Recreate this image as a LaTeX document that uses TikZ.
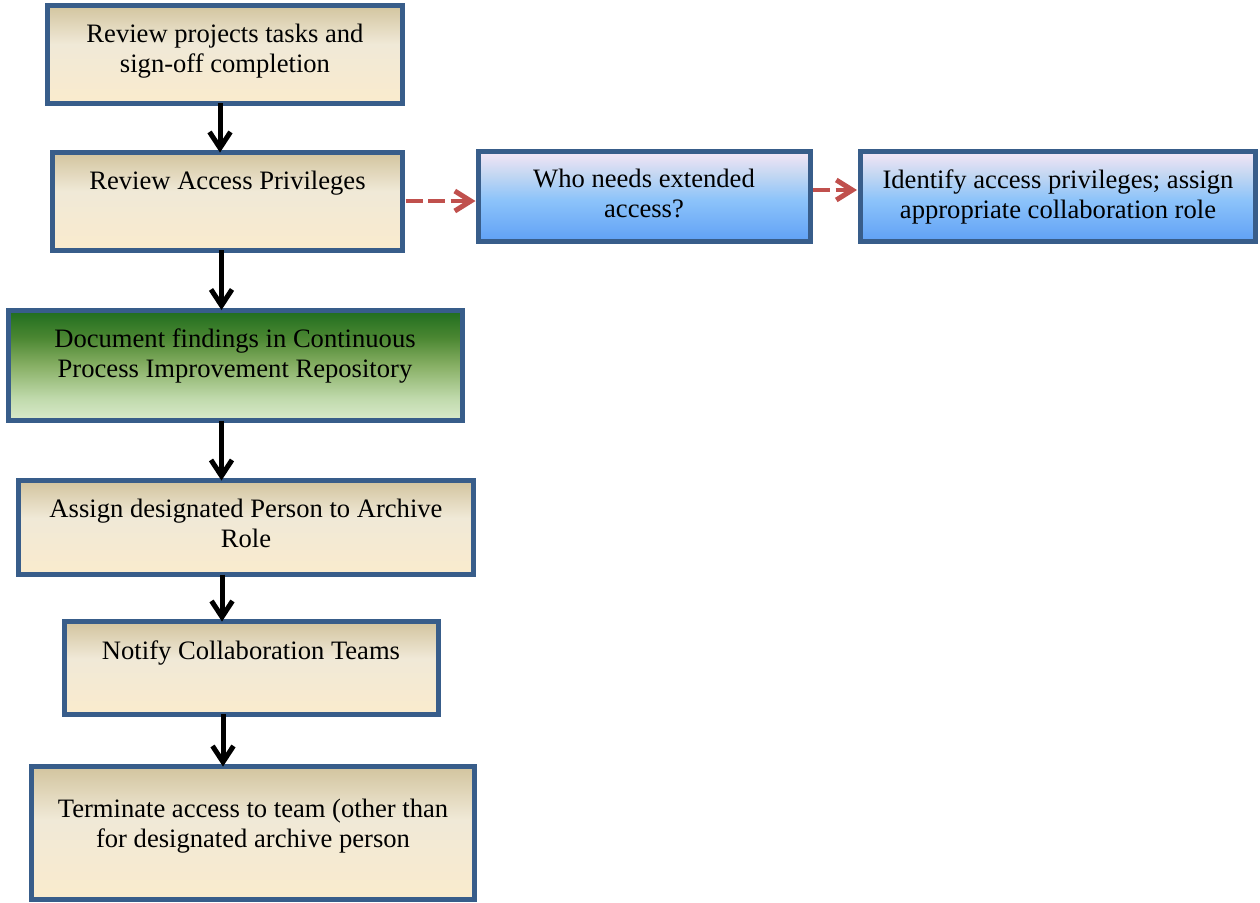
\documentclass[tikz,border=0pt]{standalone}
\usepackage{fontspec}
\setmainfont{Liberation Serif}
\usetikzlibrary{arrows.meta,fit}
\definecolor{bordc}{RGB}{56,93,138}
\definecolor{tantop}{RGB}{210,196,158}
\definecolor{tanmid}{RGB}{240,233,215}
\definecolor{tanbot}{RGB}{250,235,205}
\definecolor{grtop}{RGB}{30,108,30}
\definecolor{grmidA}{RGB}{75,135,50}
\definecolor{grmid}{RGB}{135,175,100}
\definecolor{grmidB}{RGB}{192,218,172}
\definecolor{grbot}{RGB}{218,234,204}
\definecolor{bltop}{RGB}{246,230,246}
\definecolor{blmidA}{RGB}{195,215,242}
\definecolor{blmid}{RGB}{140,195,250}
\definecolor{blbot}{RGB}{95,160,245}
\definecolor{redarr}{RGB}{192,80,77}
\pgfdeclareverticalshading{tanshade}{100bp}{color(0bp)=(tanbot); color(25bp)=(tanbot); color(55bp)=(tanmid); color(75bp)=(tantop); color(100bp)=(tantop)}
\pgfdeclareverticalshading{grshade}{100bp}{color(0bp)=(grbot); color(25bp)=(grbot); color(35bp)=(grmidB); color(50bp)=(grmid); color(62.5bp)=(grmidA); color(75bp)=(grtop); color(100bp)=(grtop)}
\pgfdeclareverticalshading{blshade}{100bp}{color(0bp)=(blbot); color(25bp)=(blbot); color(48bp)=(blmid); color(62bp)=(blmidA); color(75bp)=(bltop); color(100bp)=(bltop)}
\tikzset{
  boxbase/.style={draw=bordc, line width=2.5pt, inner sep=0pt, outer sep=0pt},
  tanbox/.style={boxbase, shading=tanshade},
  grbox/.style={boxbase, shading=grshade},
  blbox/.style={boxbase, shading=blshade},
  txt/.style={anchor=north, inner sep=0pt, align=center, font=\fontsize{13.3}{15}\selectfont},
  blkarr/.style={draw=black, line width=2.5pt, -{Straight Barb[length=8pt,width=10.5pt]}},
  redarrow/.style={draw=redarr, line width=2.3pt, dash pattern=on 8.5pt off 2.8pt, -{Straight Barb[length=8pt,width=10pt,line width=2.5pt]}, shorten <=1.5pt, shorten >=1.5pt},
}
\begin{document}
\begin{tikzpicture}[x=0.5pt, y=-0.5pt]
\useasboundingbox (0,0) rectangle (1260,902);
% boxes
\node[tanbox, fit={(47.5,5) (402.5,103)}] (b1) {};
\node[tanbox, fit={(52.5,152.5) (402.5,250)}] (b2) {};
\node[grbox, fit={(8.5,310) (462,420.5)}] (b3) {};
\node[tanbox, fit={(18.5,480.5) (473.5,574.5)}] (b4) {};
\node[tanbox, fit={(64,621.5) (438.5,714)}] (b5) {};
\node[tanbox, fit={(31,766.5) (474.5,899)}] (b6) {};
\node[blbox, fit={(478.5,151) (810,241.7)}] (b7) {};
\node[blbox, fit={(860,151) (1255.5,241.7)}] (b8) {};
% texts
\node[txt] (t1) at (225,24) {Review projects tasks and\\sign-off completion};
\node[txt] (t2) at (227.5,171) {Review Access Privileges};
\node[txt] (t3) at (235,328) {Document findings in Continuous\\Process Improvement Repository};
\node[txt] (t4) at (246,499) {Assign designated Person to Archive\\Role};
\node[txt] (t5) at (251,640) {Notify Collaboration Teams};
\node[txt] (t6) at (253,799) {Terminate access to team (other than\\for designated archive person};
\node[txt] (t7) at (644,169) {Who needs extended\\access?};
\node[txt] (t8) at (1058,169) {Identify access privileges; assign\\appropriate collaboration role};
% black arrows
\draw[blkarr] (b1.south -| 220,0) -- (b2.north -| 220,0);
\draw[blkarr] (b2.south -| 221.5,0) -- (b3.north -| 221.5,0);
\draw[blkarr] (b3.south -| 221.5,0) -- (b4.north -| 221.5,0);
\draw[blkarr] (b4.south -| 222,0) -- (b5.north -| 222,0);
\draw[blkarr] (b5.south -| 223,0) -- (b6.north -| 223,0);
% red dashed arrows
\draw[redarrow] (b2.east |- 0,201) -- (b7.west |- 0,201);
\draw[redarrow] (b7.east |- 0,190) -- (b8.west |- 0,190);
\end{tikzpicture}
\end{document}
